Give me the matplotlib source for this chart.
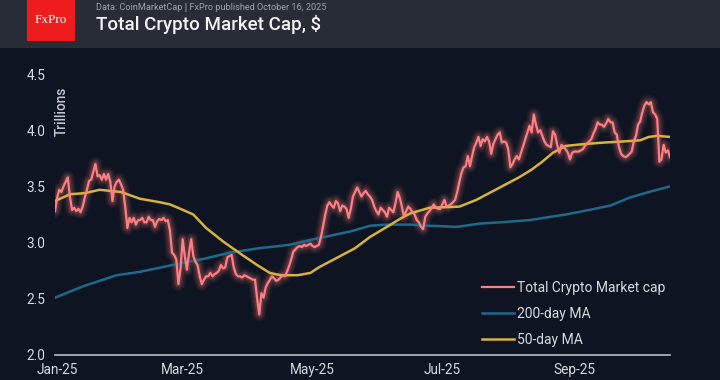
import numpy as np
import matplotlib
matplotlib.use("Agg")
import matplotlib.pyplot as plt
from matplotlib.patches import Rectangle
import matplotlib.dates as mdates

plt.rcParams['font.family'] = ['Roboto', 'DejaVu Sans']

# ---- data ----
cap_start = '2024-12-31'
cap_values = [
    3.28, 3.40, 3.47, 3.45, 3.50, 3.54, 3.58, 3.41, 3.29, 3.31,
    3.28, 3.30, 3.27, 3.32, 3.40, 3.47, 3.55, 3.56, 3.63, 3.70,
    3.59, 3.60, 3.56, 3.61, 3.56, 3.61, 3.54, 3.37, 3.50, 3.54,
    3.56, 3.52, 3.47, 3.32, 3.13, 3.22, 3.18, 3.22, 3.16, 3.20,
    3.20, 3.22, 3.18, 3.18, 3.23, 3.20, 3.20, 3.14, 3.19, 3.21,
    3.20, 3.22, 3.19, 3.20, 3.11, 2.91, 2.89, 2.85, 2.63, 2.77,
    3.03, 2.88, 2.76, 2.91, 3.03, 2.88, 2.83, 2.80, 2.70, 2.63,
    2.67, 2.70, 2.70, 2.73, 2.70, 2.72, 2.73, 2.75, 2.80, 2.77,
    2.78, 2.87, 2.88, 2.89, 2.78, 2.72, 2.70, 2.70, 2.69, 2.71,
    2.70, 2.69, 2.68, 2.67, 2.67, 2.50, 2.36, 2.55, 2.51, 2.60,
    2.64, 2.67, 2.70, 2.68, 2.66, 2.67, 2.69, 2.71, 2.70, 2.74,
    2.79, 2.85, 2.92, 2.94, 2.96, 2.97, 2.96, 2.98, 2.97, 2.98,
    2.99, 2.97, 2.96, 2.97, 2.98, 3.05, 3.15, 3.25, 3.33, 3.36,
    3.33, 3.31, 3.37, 3.35, 3.28, 3.33, 3.32, 3.30, 3.22, 3.30,
    3.41, 3.45, 3.49, 3.45, 3.41, 3.44, 3.46, 3.43, 3.41, 3.38,
    3.32, 3.28, 3.25, 3.31, 3.29, 3.27, 3.23, 3.31, 3.29, 3.27,
    3.35, 3.45, 3.40, 3.32, 3.23, 3.28, 3.32, 3.30, 3.27, 3.25,
    3.20, 3.18, 3.14, 3.12, 3.23, 3.26, 3.28, 3.31, 3.34, 3.31,
    3.30, 3.30, 3.34, 3.38, 3.32, 3.33, 3.34, 3.36, 3.38, 3.45,
    3.54, 3.62, 3.67, 3.68, 3.77, 3.68, 3.77, 3.85, 3.89, 3.94,
    3.86, 3.92, 3.90, 3.94, 3.90, 3.79, 3.88, 3.92, 3.96, 3.98,
    3.89, 3.90, 3.89, 3.83, 3.67, 3.70, 3.74, 3.77, 3.74, 3.80,
    3.86, 3.92, 3.98, 4.04, 3.98, 4.14, 4.05, 3.98, 4.00, 3.95,
    3.90, 3.87, 3.86, 3.85, 3.99, 3.96, 3.87, 3.80, 3.87, 3.85,
    3.83, 3.80, 3.74, 3.80, 3.81, 3.81, 3.81, 3.82, 3.83, 3.86,
    3.88, 3.90, 3.92, 3.97, 4.01, 4.07, 4.05, 4.05, 4.03, 4.06,
    4.10, 4.07, 4.07, 3.98, 3.96, 3.85, 3.79, 3.77, 3.76, 3.77,
    3.79, 3.81, 3.90, 3.95, 4.05, 4.08, 4.16, 4.22, 4.25, 4.23,
    4.25, 4.16, 4.14, 4.10, 3.72, 3.74, 3.87, 3.80, 3.82, 3.76,
]

# moving averages: days since 2025-01-01 and values (trillions)
ma200_days = [-1, 12, 20, 28, 39, 54, 70, 81, 95, 109, 123, 138, 147, 155,
              166, 175, 188, 199, 208, 222, 239, 250, 260, 269, 278, 288]
ma200_vals = [2.51, 2.61, 2.66, 2.71, 2.74, 2.80, 2.86, 2.91, 2.95, 2.98,
              3.04, 3.10, 3.15, 3.16, 3.16, 3.15, 3.14, 3.17, 3.18, 3.20,
              3.25, 3.29, 3.33, 3.40, 3.45, 3.50]

ma50_days = [-1, 6, 13, 20, 30, 36, 39, 48, 53, 58, 64, 70, 78, 81, 87, 94,
             100, 105, 113, 119, 123, 132, 140, 147, 155, 161, 166, 175, 189,
             197, 203, 208, 217, 223, 228, 233, 239, 244, 250, 257, 266, 274,
             278, 282, 288]
ma50_vals = [3.37, 3.43, 3.44, 3.47, 3.45, 3.41, 3.39, 3.36, 3.34, 3.30,
             3.25, 3.13, 3.01, 2.97, 2.89, 2.80, 2.73, 2.71, 2.71, 2.73,
             2.78, 2.87, 2.95, 3.05, 3.14, 3.21, 3.26, 3.31, 3.32, 3.38,
             3.44, 3.49, 3.58, 3.65, 3.72, 3.80, 3.86, 3.87, 3.88, 3.89,
             3.90, 3.91, 3.94, 3.95, 3.94]

xtick_dates = ['2025-01-01', '2025-03-01', '2025-05-01', '2025-07-01', '2025-09-01']
yticks = [2.0, 2.5, 3.0, 3.5, 4.0, 4.5]

labels = ['Total Crypto Market cap', '200-day MA', '50-day MA']
title = 'Total Crypto Market Cap, $'
subtitle = 'Data: CoinMarketCap \u01c0 FxPro published October 16, 2025'

# ---- figure ----
W, H = 720, 380
BG = '#0e1421'
HEADER = '#282c37'
RED = '#ff7f82'
BLUE = '#1e6a8c'
YELLOW = '#d8b23c'
TXT = '#d6d9de'

fig = plt.figure(figsize=(W / 100, H / 100), dpi=100, facecolor=BG)
fig.patches.append(Rectangle((0, 1 - 48 / H), 1, 48 / H, transform=fig.transFigure,
                             facecolor=HEADER, edgecolor='none', zorder=0))
fig.patches.append(Rectangle((27 / W, 1 - 41 / H), 48 / W, 41 / H, transform=fig.transFigure,
                             facecolor='#ee1c1c', edgecolor='none', zorder=1))
fig.text(51 / W, 1 - 20 / H, 'FxPro', color='white', fontsize=9.5,
         family=['Liberation Serif', 'DejaVu Serif'], ha='center', va='center')
fig.text(96 / W, 1 - 8 / H, subtitle, color='#9ea3ad', fontsize=6.6,
         ha='left', va='center', family=['Roboto', 'DejaVu Sans'])
fig.text(96 / W, 1 - 25 / H, title, color='#f2f3f5', fontsize=13.5,
         ha='left', va='center', fontweight='medium')

ax = fig.add_axes([55 / W, 25 / H, 615 / W, (355 - 74) / H])
ax.set_facecolor(BG)

base = np.datetime64('2025-01-01')
cap_dates = np.datetime64(cap_start) + np.arange(len(cap_values))
ma200_dates = base + np.array(ma200_days)
ma50_dates = base + np.array(ma50_days)

# glow for main series
for lw, a in [(10, 0.05), (8, 0.07), (6, 0.09), (4, 0.14)]:
    ax.plot(cap_dates, cap_values, color=RED, lw=lw, alpha=a,
            solid_joinstyle='round', solid_capstyle='round', zorder=2)
ax.plot(cap_dates, cap_values, color=RED, lw=1.6, zorder=4, label=labels[0],
        solid_joinstyle='round')
ax.plot(ma200_dates, ma200_vals, color=BLUE, lw=1.8, zorder=3, label=labels[1])
ax.plot(ma50_dates, ma50_vals, color=YELLOW, lw=1.8, zorder=3, label=labels[2])

ax.set_xlim(cap_dates[0], cap_dates[-1])
ax.set_ylim(2.0, 4.5)
ax.set_yticks(yticks)
ax.set_yticklabels([f'{v:.1f}' for v in yticks])
ax.set_xticks([np.datetime64(d) for d in xtick_dates])
ax.xaxis.set_major_formatter(mdates.DateFormatter('%b-%y'))
ax.tick_params(axis='both', length=0, colors=TXT, labelsize=9.8)
ax.tick_params(axis='y', pad=7)
ax.tick_params(axis='x', pad=6)
for s in ['top', 'right', 'left']:
    ax.spines[s].set_visible(False)
ax.spines['bottom'].set_color('#b9bcc2')
ax.spines['bottom'].set_linewidth(1.2)

fig.text(62 / W, 1 - 111 / H, 'Trillions', rotation=90, color='#c4c7cd',
         fontsize=9.8, ha='center', va='center', fontweight='medium')

leg = ax.legend(loc='lower right', bbox_to_anchor=(1.013, -0.016), frameon=False,
                fontsize=10, labelcolor=TXT, handlelength=2.3, handletextpad=0.25,
                labelspacing=0.86)

fig.savefig('out.png', dpi=100, facecolor=BG)
